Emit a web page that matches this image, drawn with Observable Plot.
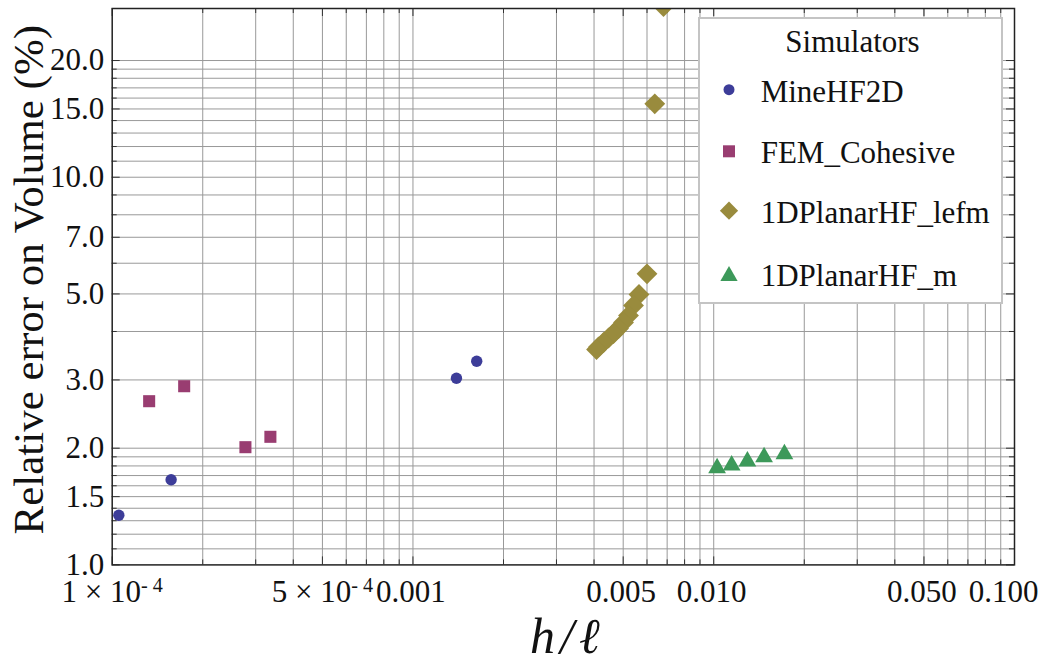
<!DOCTYPE html>
<html><head><meta charset="utf-8">
<script src="https://cdn.jsdelivr.net/npm/d3@7"></script>
<script src="https://cdn.jsdelivr.net/npm/@observablehq/plot@0.6"></script>
<style>
body{margin:0;background:#fff;}
#wrap{position:relative;width:1055px;height:669px;overflow:hidden;}
#legend{position:absolute;left:698px;top:17px;}
</style></head><body><div id="wrap"></div>
<script>
// ---- data ----
const seriesNames = ["MineHF2D", "FEM_Cohesive", "1DPlanarHF_lefm", "1DPlanarHF_m"];
const seriesColors = ["#3d3d99", "#993d71", "#998b3d", "#3d995a"];
const mineX = [1.052e-4, 1.570e-4, 1.395e-3, 1.629e-3];
const mineY = [1.343, 1.658, 3.03, 3.353];
const femX = [1.327e-4, 1.735e-4, 2.773e-4, 3.357e-4];
const femY = [2.644, 2.890, 2.012, 2.140];
const lefmX = [6.807e-3, 6.368e-3, 5.999e-3, 5.643e-3, 5.410e-3, 5.207e-3, 5.012e-3, 4.824e-3, 4.643e-3, 4.469e-3, 4.301e-3, 4.139e-3, 4.077e-3];
const lefmY = [27.56, 15.46, 5.633, 4.984, 4.669, 4.399, 4.220, 4.072, 3.953, 3.849, 3.747, 3.648, 3.594];
const mX = [0.01026, 0.01147, 0.01294, 0.01470, 0.01718];
const mY = [1.778, 1.806, 1.850, 1.897, 1.932];

const xTickValues = [1e-4, 5e-4, 0.001, 0.005, 0.01, 0.05, 0.1];
const xTickLabels = ["1 × 10^- 4", "5 × 10^- 4", "0.001", "0.005", "0.010", "0.050", "0.100"];
const yTickValues = [1, 1.5, 2, 3, 5, 7, 10, 15, 20];
const yTickLabels = ["1.0", "1.5", "2.0", "3.0", "5.0", "7.0", "10.0", "15.0", "20.0"];
const xGrid = [0.0002,0.0003,0.0004,0.0005,0.0006,0.0007,0.0008,0.0009,0.001,
  0.002,0.003,0.004,0.005,0.006,0.007,0.008,0.009,0.01,
  0.02,0.03,0.04,0.05,0.06,0.07,0.08,0.09];
const yGrid = [1.1,1.2,1.3,1.4,1.5,1.6,1.7,1.8,1.9,2,3,4,5,6,7,8,9,10,11,12,13,14,15,16,17,18,19,20];
const xDomain = [1e-4, 0.1];
const yDomain = [1, 27.24];
const xLabel = "h/ℓ";
const yLabel = "Relative error on Volume (%)";
const legendTitle = "Simulators";

// ---- layout ----
const W = 1055, H = 669;
const mL = 111.7, mR = 41, mT = 8, mB = 104.6;
const innerW = W - mL - mR, innerH = H - mT - mB;
const font = "Liberation Serif, Times New Roman, serif";
const gridColor = "#999";
const tickColor = "#333";
const xMinor = xGrid.filter(v => !xTickValues.includes(v));
const yMinor = yGrid.filter(v => !yTickValues.includes(v));
const toRows = (xs, ys) => xs.map((x, i) => ({x, y: ys[i]}));
const fmtX = d => xTickLabels[xTickValues.indexOf(d)];
const fmtY = d => yTickLabels[yTickValues.indexOf(d)];

const svg = Plot.plot({
  width: W, height: H,
  marginLeft: mL, marginRight: mR, marginTop: mT, marginBottom: mB,
  style: {fontFamily: font, background: "#fff", color: "#111"},
  x: {type: "log", domain: xDomain},
  y: {type: "log", domain: yDomain},
  marks: [
    Plot.ruleX(xGrid, {stroke: gridColor, strokeWidth: 1}),
    Plot.ruleY(yGrid, {stroke: gridColor, strokeWidth: 1}),
    // frame ticks (inward)
    Plot.ruleX(xTickValues, {stroke: tickColor, insetTop: innerH - 8}),
    Plot.ruleX(xMinor, {stroke: tickColor, insetTop: innerH - 5}),
    Plot.ruleX(xTickValues, {stroke: tickColor, insetBottom: innerH - 8}),
    Plot.ruleX(xMinor, {stroke: tickColor, insetBottom: innerH - 5}),
    Plot.ruleY(yTickValues, {stroke: tickColor, insetRight: innerW - 8}),
    Plot.ruleY(yMinor, {stroke: tickColor, insetRight: innerW - 5}),
    Plot.ruleY(yTickValues, {stroke: tickColor, insetLeft: innerW - 8}),
    Plot.ruleY(yMinor, {stroke: tickColor, insetLeft: innerW - 5}),
    Plot.axisX({ticks: xTickValues, text: fmtX, tickSize: 0, tickPadding: 15, fontSize: 31, label: null}),
    Plot.axisY({ticks: yTickValues, text: fmtY, tickSize: 0, tickPadding: 8, fontSize: 31, label: null}),
    Plot.dot(toRows(mineX, mineY), {x: "x", y: "y", symbol: "circle", r: 5.7, fill: seriesColors[0], stroke: "none"}),
    Plot.dot(toRows(femX, femY), {x: "x", y: "y", symbol: "square", r: 6.8, fill: seriesColors[1], stroke: "none"}),
    Plot.dot(toRows(lefmX, lefmY), {x: "x", y: "y", symbol: "diamond2", r: 9.4, fill: seriesColors[2], stroke: "none", clip: true}),
    Plot.dot(toRows(mX, mY), {x: "x", y: "y", symbol: "triangle", r: 6.6, fill: seriesColors[3], stroke: "none"}),
    Plot.frame({stroke: "#222", strokeWidth: 1.5}),
    Plot.text([yLabel], {frameAnchor: "left", textAnchor: "middle", lineAnchor: "middle", rotate: -90, dx: -83, dy: -7, fontSize: 43, fontFamily: font, fill: "#111"}),
    Plot.text([xLabel], {frameAnchor: "bottom", textAnchor: "middle", lineAnchor: "middle", dx: 4, dy: 72, fontSize: 50, fontStyle: "italic", fontFamily: font, fill: "#111"})
  ]
});

// superscripts in x tick labels; nudge last label inside the picture
svg.querySelectorAll('g[aria-label="x-axis tick label"] text').forEach(t => {
  const s = t.textContent;
  if (s.includes("^")) {
    const [base, exp] = s.split("^");
    t.textContent = "";
    const ns = "http://www.w3.org/2000/svg";
    const a = document.createElementNS(ns, "tspan"); a.textContent = base; t.appendChild(a);
    const b = document.createElementNS(ns, "tspan"); b.textContent = exp;
    b.setAttribute("dy", "-0.5em"); b.setAttribute("font-size", "0.65em"); t.appendChild(b);
  } else if (s === "0.100") {
    t.setAttribute("dx", "-11");
  } else {
    t.setAttribute("dx", "-2");
  }
});
// spacing around slash in x title
svg.querySelectorAll("text").forEach(t => {
  if (t.textContent === xLabel) t.setAttribute("letter-spacing", "5");
});

const wrap = document.getElementById("wrap");
wrap.appendChild(svg);

// ---- legend overlay ----
const LW = 305, LH = 287;
const lg = d3.select(wrap).append("svg").attr("id", "legend").attr("width", LW).attr("height", LH)
  .style("font-family", font);
lg.append("rect").attr("x", 1).attr("y", 1).attr("width", LW - 2).attr("height", LH - 2)
  .attr("fill", "#fff").attr("stroke", "#c4c4c4").attr("stroke-width", 2);
lg.append("text").attr("x", 154.5).attr("y", 34.7).attr("text-anchor", "middle")
  .attr("font-size", 31).attr("fill", "#111").text(legendTitle);
const legendSymbols = [d3.symbolCircle, d3.symbolSquare, d3.symbolDiamond2, d3.symbolTriangle];
const legendSizes = [Math.PI * 5.5 * 5.5, 144, Math.PI * 8.2 * 8.2, Math.PI * 6.4 * 6.4];
const baselines = [84.7, 146.3, 205.7, 269];
seriesNames.forEach((name, i) => {
  lg.append("path").attr("d", d3.symbol(legendSymbols[i], legendSizes[i])())
    .attr("transform", `translate(31,${baselines[i] - 12 + (i === 3 ? 2 : 0)})`)
    .attr("fill", seriesColors[i]);
  lg.append("text").attr("x", 62.7).attr("y", baselines[i]).attr("font-size", 31)
    .attr("fill", "#111").text(name);
});
</script></body></html>
